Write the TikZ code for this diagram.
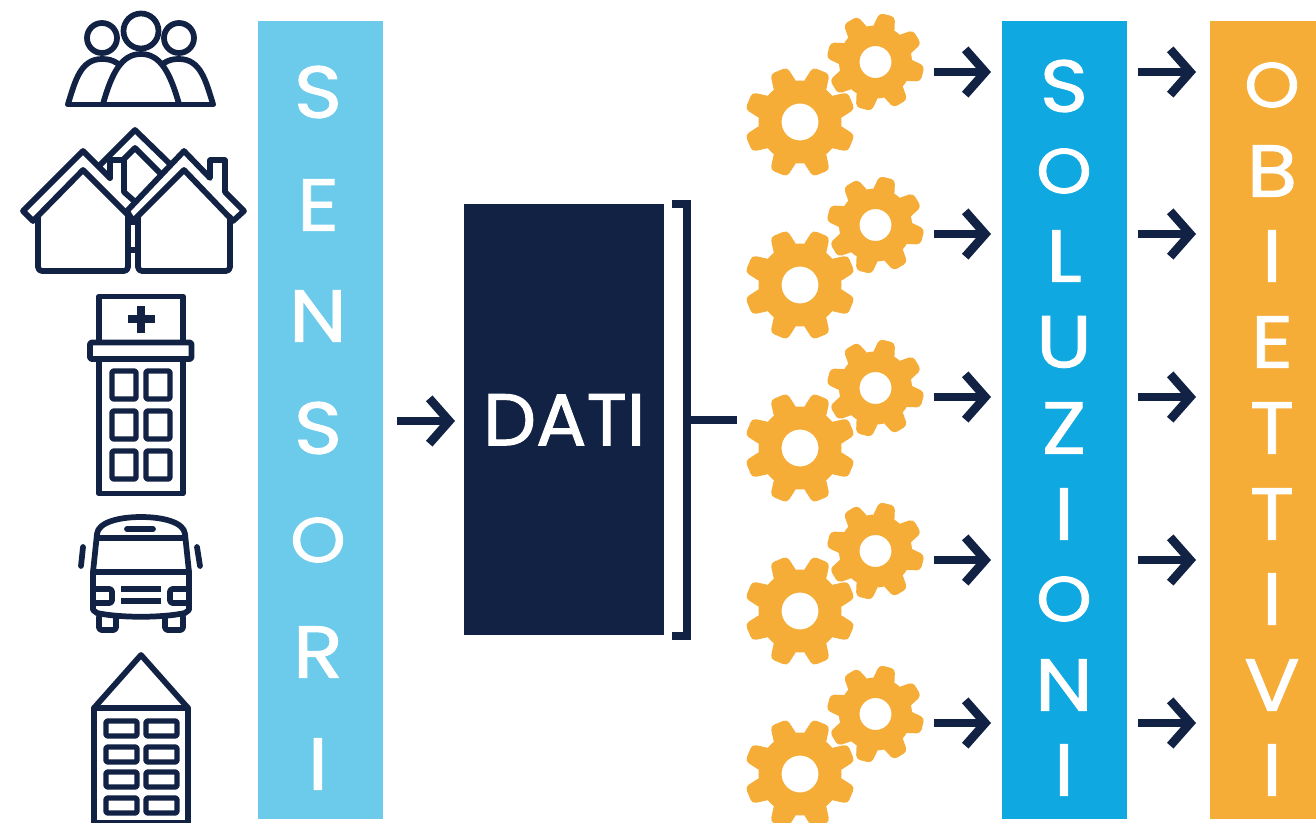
\documentclass[tikz,border=0pt]{standalone}
\usepackage{fontspec}
\setmainfont{Poppins}
\newfontfamily\lettfont{Poppins}[FakeStretch=1.12,FakeBold=1.3]
\newfontfamily\datifont{Poppins}[FakeStretch=1.02,FakeBold=1.3]
\usetikzlibrary{arrows.meta}
\definecolor{navy}{HTML}{112244}
\definecolor{skybar}{HTML}{6CCBEA}
\definecolor{bluebar}{HTML}{0FA8E0}
\definecolor{orangebar}{HTML}{F5AD38}
\newcommand{\roundO}{\scalebox{0.86}{O}}
\tikzset{
  icon/.style={draw=navy,line width=4.3pt,line join=round,line cap=round},
  iconthin/.style={draw=navy,line width=4.1pt,line join=round,rounded corners=1.5pt},
  bar/.style={draw=none,minimum width=93.75pt,minimum height=598.5pt,inner sep=0pt},
  letter/.style={text=white,font=\lettfont\fontsize{55}{55}\selectfont,inner sep=0pt},
  flow/.style={draw=navy,line width=6pt,-{Straight Barb[length=15pt,width=34pt,line width=6.5pt]}},
  bracketline/.style={draw=navy,line width=6pt,line join=miter},
  geartooth/.style={fill=orangebar,rounded corners=3pt},
  gearbody/.style={fill=orangebar,even odd rule}
}
% cx cy body-radius tip-radius rotation hole-radius base-halfwidth tip-halfwidth
\newcommand{\gearshape}[8]{%
  \begin{scope}[shift={(#1,#2)}]
  \fill[gearbody] (0,0) circle[radius=#3] (0,0) circle[radius=#6];
  \foreach \k in {0,...,7}{
    \begin{scope}[rotate=-#5-45*\k]
      \fill[geartooth] ({#3-5},{-#7-1.5}) -- ({#4},-#8) -- ({#4},#8) -- ({#3-5},{#7+1.5}) -- cycle;
    \end{scope}
  }
  \end{scope}}
\begin{document}
\begin{tikzpicture}[x=0.75pt,y=-0.75pt]
\clip (0,0) rectangle (1316,823);
\fill[white] (0,0) rectangle (1316,823);

% Bars
\node[bar,fill=skybar,anchor=north west] (sensori) at (258,21) {};
\node[bar,fill=bluebar,anchor=north west] (soluzioni) at (1002,21) {};
\node[bar,fill=orangebar,anchor=north west,minimum width=79.5pt] (obiettivi) at (1210,21) {};
\node[fill=navy,draw=none,minimum width=150pt,minimum height=323.25pt,inner sep=0pt,anchor=north west,text=white,font=\datifont\fontsize{55}{55}\selectfont] (dati) at (464,204) {DATI};

% Letters
\foreach \c/\y [count=\n] in {S/92,E/205,N/316,S/428,\roundO/540,R/652,I/764}
  \node[letter] (a\n) at (318,\y) {\c};
\foreach \c/\y [count=\n] in {S/86,\roundO/171,L/256,U/342,Z/428,I/514,\roundO/599,N/685,I/770}
  \node[letter] (b\n) at (1064,\y) {\c};
\foreach \c/\y [count=\n] in {\roundO/85,B/171,I/256,E/342,T/428,T/514,I/599,V/685,I/770}
  \node[letter] (c\n) at (1272,\y) {\c};

% Bracket
\coordinate (brtop) at (672,204);
\coordinate (brtopr) at (687,204);
\coordinate (brbot) at (672,636);
\coordinate (brbotr) at (687,636);
\coordinate (brmid) at (687,420);
\coordinate (brstub) at (737,420);
\draw[bracketline] (brtop) -- (brtopr) -- (brbotr) -- (brbot);
\draw[bracketline] (brmid) -- (brstub);

% Arrows
\coordinate (s1) at (397,421);
\coordinate (s2) at (455,421);
\draw[flow] (s1) -- (s2);
\foreach \y [count=\n] in {72,234,397,560,723}{
  \coordinate (g\n) at (934,\y);
  \coordinate (h\n) at (991,\y);
  \draw[flow] (g\n) -- (h\n);
  \coordinate (i\n) at (1138,\y);
  \coordinate (j\n) at (1196,\y);
  \draw[flow] (i\n) -- (j\n);
}

% Gears
\foreach \i in {0,...,4}{
  \pgfmathsetmacro{\yb}{122+163*\i}
  \pgfmathsetmacro{\ys}{62+163*\i}
  \gearshape{800}{\yb}{41.5}{55.5}{22.5}{18.5}{11}{9}
  \gearshape{875.5}{\ys}{36.5}{48.5}{14}{16}{10}{8}
}

% People
\draw[icon] (141,31) circle[radius=17.5];
\draw[icon] (102,38) circle[radius=15];
\draw[icon] (179,38) circle[radius=15];
\draw[icon] (68,104.5) -- (213,104.5);
\draw[icon] (103,104) .. controls (112,72) and (122,54) .. (141,54) .. controls (160,54) and (170,72) .. (179,104);
\draw[icon] (68,104) .. controls (75,82) and (80,59) .. (102,59) .. controls (108,59) and (112,60) .. (117,63);
\draw[icon] (213,104) .. controls (206,82) and (201,59) .. (179,59) .. controls (173,59) and (169,60) .. (164,63);

% Houses
\draw[icon] (100,165) -- (135,130) -- (170,164);
\draw[icon] (110,160) -- (123,160) -- (135,148) -- (160,173);
\draw[icon] (124,160) -- (124,192) -- (133,200);
\draw[icon] (129,250) -- (137,250);
\draw[icon] (129,222) -- (137,222);
\draw[icon] (110,178) -- (83,151) -- (23,211) -- (33,221) -- (83,170) -- (133,220);
\draw[icon] (110,178) -- (110,160);
\draw[icon] (38,217) -- (38,266) [rounded corners=3pt] -- (38,271) -- (128,271) -- (128,217);
\draw[icon] (184,170) -- (133,221) -- (127,211) -- (184,151) -- (210,178) -- (210,160) -- (225,160) -- (225,192) -- (244,211) -- (233,221) -- (184,170);
\draw[icon,rounded corners=3pt] (138,217) -- (138,271) -- (230,271) -- (230,217);

% Hospital
\draw[icon] (99,342) -- (99,296.5) -- (183,296.5) -- (183,342);
\draw[navy,line width=6pt] (141,306) -- (141,333) (127.5,319.5) -- (154.5,319.5);
\draw[icon,rounded corners=1pt] (90,342.5) rectangle (191.5,359);
\draw[icon] (99,360) -- (99,493.5) -- (183,493.5) -- (183,360);
\foreach \wx in {112,146}
  \foreach \wy in {371,411,451}
    \draw[iconthin] (\wx,\wy) rectangle ++(24,28);

% Bus
\draw[icon] (97,534) .. controls (98,522) and (120,517) .. (141,517) .. controls (162,517) and (184,522) .. (185,534);
\draw[icon] (97,534) -- (93,572) -- (93,610) -- (97,613) .. controls (120,618) and (162,618) .. (185,613) -- (189,610) -- (189,572) -- (185,534);
\draw[icon] (97,538) -- (185,538);
\draw[icon] (93,572) -- (189,572);
\draw[icon] (127,529) -- (153,529);
\draw[icon] (83,547) -- (81,566);
\draw[icon] (197,547) -- (200,566);
\draw[navy,line width=4.5pt] (121,589) -- (161,589) (121,601) -- (161,601);
\draw[icon,rounded corners=2pt] (94,589) -- (112,589) -- (112,603) -- (94,603);
\draw[icon,rounded corners=2pt] (188,589) -- (170,589) -- (170,603) -- (188,603);
\draw[icon,rounded corners=2pt] (99,617) -- (99,630) -- (116,630) -- (116,617);
\draw[icon,rounded corners=2pt] (165,617) -- (165,630) -- (183,630) -- (183,617);

% Apartment
\draw[icon] (94,708) -- (141,655) -- (188,708) -- cycle;
\draw[icon] (94,708) -- (94,823) -- (188,823) -- (188,708);
\foreach \wx in {106,146}
  \foreach \wy in {721,747,772,798}
    \draw[iconthin] (\wx,\wy) rectangle ++(31,15);
\end{tikzpicture}
\end{document}
